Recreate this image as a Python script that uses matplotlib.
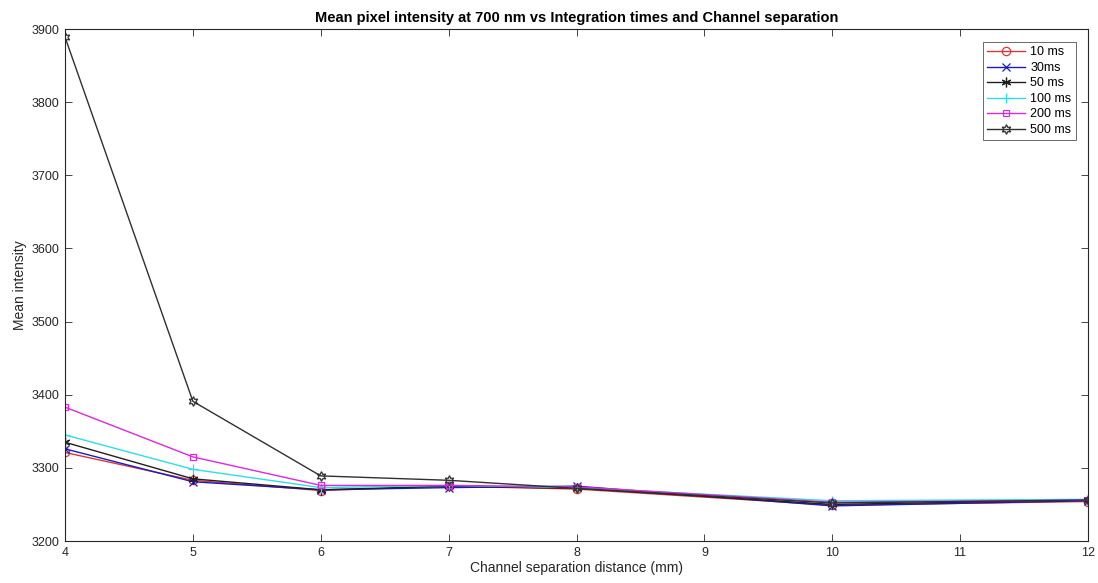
import matplotlib
matplotlib.use("Agg")
import matplotlib.pyplot as plt

plt.rcParams['font.family'] = ['Liberation Sans', 'DejaVu Sans']

distance_mm = [4, 5, 6, 7, 8, 10, 12]

series_labels = ['10 ms', '30ms', '50 ms', '100 ms', '200 ms', '500 ms']
intensity_10ms = [3321, 3283, 3269, 3275, 3271, 3249, 3254]
intensity_30ms = [3326, 3281, 3270, 3273, 3275, 3248, 3255]
intensity_50ms = [3335, 3285, 3270, 3275, 3272, 3250, 3256]
intensity_100ms = [3345, 3298, 3273, 3276, 3273, 3255, 3257]
intensity_200ms = [3383, 3315, 3276, 3276, 3274, 3253, 3256]
intensity_500ms = [3889, 3391, 3289, 3283, 3272, 3252, 3256]

x_ticks = [4, 5, 6, 7, 8, 9, 10, 11, 12]
y_ticks = [3200, 3300, 3400, 3500, 3600, 3700, 3800, 3900]

all_series = [intensity_10ms, intensity_30ms, intensity_50ms,
              intensity_100ms, intensity_200ms, intensity_500ms]
styles = [
    dict(color='#d83838', marker='o', ms=6, mfc='none'),
    dict(color='#1a1ac8', marker='x', ms=6),
    dict(color='#202020', marker=(6, 2, 0), ms=7),
    dict(color='#30dde5', marker='+', ms=7),
    dict(color='#dd28dd', marker='s', ms=5, mfc='none'),
    dict(color='#303030', marker=(6, 1, 0), ms=7, mfc='none'),
]

fig = plt.figure(figsize=(10.98, 5.83), dpi=100)
L, R, T, B = 65, 1088, 29, 541
ax = fig.add_axes([L / 1098, 1 - B / 583, (R - L) / 1098, (B - T) / 583])

for vals, label, st in zip(all_series, series_labels, styles):
    ax.plot(distance_mm, vals, label=label, lw=1.0, mew=0.9, **st)

ax.set_xlim(4, 12)
ax.set_ylim(3200, 3900)
ax.set_xticks(x_ticks)
ax.set_yticks(y_ticks)
ax.tick_params(direction='in', top=True, right=True, length=5, width=0.6,
               labelsize=9, colors='#262626', pad=4)
for sp in ax.spines.values():
    sp.set_linewidth(0.8)
    sp.set_color('#262626')

ax.set_xlabel('Channel separation distance (mm)', fontsize=10, color='#262626', labelpad=2)
ax.set_ylabel('Mean intensity', fontsize=10, color='#262626', labelpad=3)
ax.set_title('Mean pixel intensity at 700 nm vs Integration times and Channel separation',
             fontsize=10.5, fontweight='bold', pad=5)

leg = ax.legend(loc='upper right',
                bbox_to_anchor=((1076 - L) / (R - L), (B - 42) / (B - T)),
                borderaxespad=0, fontsize=9,
                frameon=True, fancybox=False, edgecolor='#262626',
                handlelength=3.0, borderpad=0.35, labelspacing=0.28, handletextpad=0.45)
leg.get_frame().set_linewidth(0.6)

fig.savefig('out.png', dpi=100, facecolor='white')
